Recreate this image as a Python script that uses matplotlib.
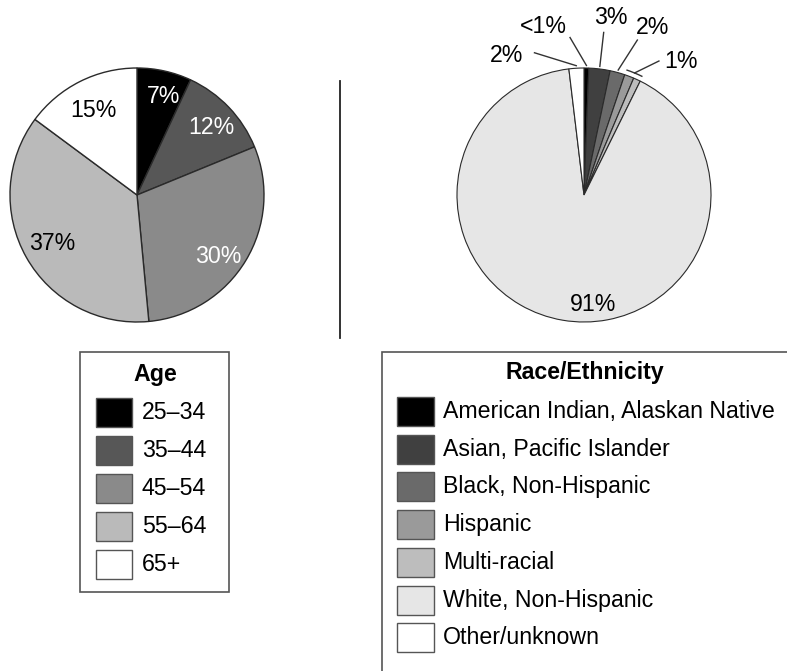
import numpy as np
import matplotlib
matplotlib.use("Agg")
import matplotlib.pyplot as plt
from matplotlib.patches import Rectangle, Arc

plt.rcParams['font.family'] = ['Liberation Sans', 'DejaVu Sans']

# ---------------- data ----------------
age_labels = ["25\u201334", "35\u201344", "45\u201354", "55\u201364", "65+"]
age_values = [7, 12, 30, 37, 15]
age_pct_text = ["7%", "12%", "30%", "37%", "15%"]
age_colors = ["#000000", "#575757", "#8a8a8a", "#bababa", "#ffffff"]
age_text_colors = ["white", "white", "white", "black", "black"]

race_labels = ["American Indian, Alaskan Native", "Asian, Pacific Islander",
               "Black, Non-Hispanic", "Hispanic", "Multi-racial",
               "White, Non-Hispanic", "Other/unknown"]
race_values = [0.6, 2.7, 1.9, 1.2, 0.9, 90.8, 1.9]
race_colors = ["#000000", "#404040", "#6a6a6a", "#9a9a9a", "#bdbdbd", "#e6e6e6", "#ffffff"]

W, H = 787, 671
fig = plt.figure(figsize=(W / 100, H / 100), dpi=100)

def axes_px(cx, cy, r):
    return fig.add_axes([(cx - r) / W, 1 - (cy + r) / H, 2 * r / W, 2 * r / H])

FS = 16.7
edge_kw = dict(edgecolor="#2a2a2a", linewidth=1.0)

# label placement tweaks (angle shift in degrees, radius)
age_lab_shift = [2.4, 1.5, 6.0, 0.0, -0.7]
age_lab_rad = [0.80, 0.79, 0.80, 0.77, 0.75]

# ---------------- left pie ----------------
ax1 = axes_px(137, 195, 127)
wedges1, _ = ax1.pie(age_values, colors=age_colors, startangle=90, counterclock=False,
                     radius=1, wedgeprops=edge_kw)
tot = sum(age_values)
cum = 0
for v, t, tc, sh, rr in zip(age_values, age_pct_text, age_text_colors,
                            age_lab_shift, age_lab_rad):
    mid = (cum + v / 2) / tot * 360 + sh
    cum += v
    ang = np.deg2rad(90 - mid)
    ax1.text(rr * np.cos(ang), rr * np.sin(ang), t, ha="center", va="center",
             fontsize=FS, color=tc)
ax1.set_xlim(-1, 1); ax1.set_ylim(-1, 1)
ax1.set_aspect("equal")
ax1.axis("off")

# ---------------- right pie ----------------
ax2 = axes_px(584, 195, 127)
wedges2, _ = ax2.pie(race_values, colors=race_colors, startangle=90, counterclock=False,
                     radius=1, wedgeprops=dict(edgecolor="#2a2a2a", linewidth=0.8))
ax2.set_xlim(-1, 1); ax2.set_ylim(-1, 1)
ax2.set_aspect("equal")
ax2.axis("off")

rtot = sum(race_values)
starts = np.concatenate([[0], np.cumsum(race_values)[:-1]]) / rtot * 360
spans = np.array(race_values) / rtot * 360
mids = starts + spans / 2

def pol(angle_cw_from_top, r):
    a = np.deg2rad(90 - angle_cw_from_top)
    return r * np.cos(a), r * np.sin(a)

# White label inside
ax2.text(0.07, -0.86, "91%", ha="center", va="center", fontsize=FS)

# outside labels: (text, anchor angle, text pos, line start)
outside = [
    ("2%", mids[6] - 360, (-0.61, 1.10), (-0.39, 1.12)),
    ("<1%", mids[0], (-0.32, 1.33), (-0.11, 1.24)),
    ("3%", mids[1], (0.21, 1.40), (0.155, 1.28)),
    ("2%", mids[2], (0.54, 1.32), (0.42, 1.22)),
]
for t, ang, tp, ls in outside:
    ax2.text(tp[0], tp[1], t, ha="center", va="center", fontsize=FS, clip_on=False)
    ex, ey = pol(ang, 1.02)
    ax2.plot([ls[0], ex], [ls[1], ey], color="#333333", lw=1.0, clip_on=False)

# bracket spanning Hispanic + Multi-racial
a0 = starts[3]; a1 = starts[4] + spans[4]
arc = Arc((0, 0), 2.08, 2.08, theta1=90 - a1, theta2=90 - a0, color="#333333", lw=1.0,
          clip_on=False)
ax2.add_patch(arc)
bx, by = pol((a0 + a1) / 2, 1.04)
ax2.plot([0.59, bx], [1.055, by], color="#333333", lw=1.0, clip_on=False)
ax2.text(0.76, 1.055, "1%", ha="center", va="center", fontsize=FS, clip_on=False)

# ---------------- overlay (pixel coords) ----------------
ov = fig.add_axes([0, 0, 1, 1], zorder=-1)
ov.set_xlim(0, W); ov.set_ylim(H, 0)
ov.axis("off")

# divider
ov.plot([340, 340], [81, 338], color="#222222", lw=1.3)

def legend_box(x0, y0, x1, y1, title, title_x, title_y, labels, colors,
               px, py, pw, ph, step, tx):
    ov.add_patch(Rectangle((x0, y0), x1 - x0, y1 - y0, facecolor="white",
                           edgecolor="#555555", lw=1.2, clip_on=False))
    ov.text(title_x, title_y, title, ha="center", va="center", fontsize=FS,
            fontweight="bold")
    for i, (lab, c) in enumerate(zip(labels, colors)):
        y = py + i * step
        ov.add_patch(Rectangle((px, y), pw, ph, facecolor=c, edgecolor="#555555", lw=1.0))
        ov.text(tx, y + ph / 2, lab, ha="left", va="center", fontsize=FS)

legend_box(80, 352, 229, 592, "Age", 155, 375, age_labels, age_colors,
           96, 398, 36, 29, 38, 142)
legend_box(382, 352, 800, 690, "Race/Ethnicity", 585, 373, race_labels, race_colors,
           397, 397, 37, 29, 37.7, 443)

fig.savefig("out.png", dpi=100, facecolor="white")
